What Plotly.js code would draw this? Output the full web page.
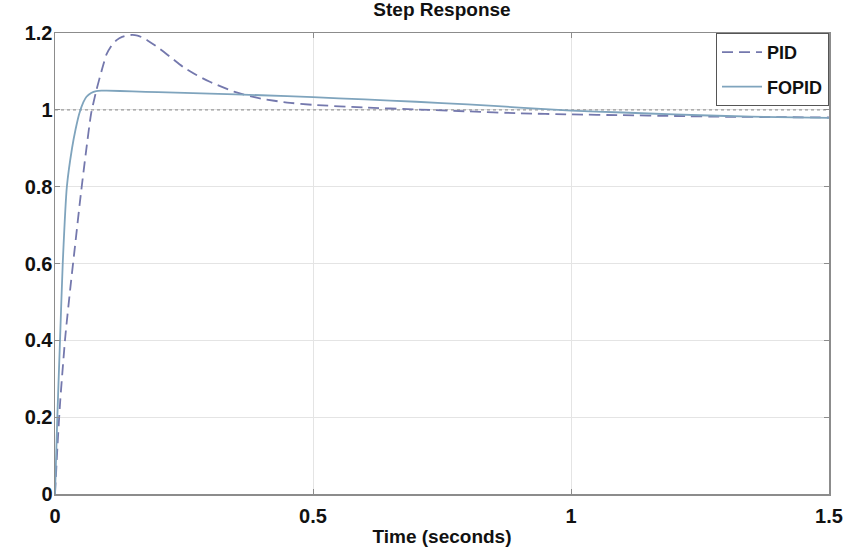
<!DOCTYPE html>
<html>
<head>
<meta charset="utf-8">
<script src="https://cdn.plot.ly/plotly-3.0.1.min.js"></script>
<style>html,body{margin:0;padding:0;background:#fff;}#chart{width:849px;height:552px;}</style>
</head>
<body>
<div id="chart"></div>
<script>
// Time samples and responses
var pidTime = [0, 0.005, 0.01, 0.02, 0.03, 0.04, 0.05, 0.06, 0.07, 0.08, 0.09, 0.1, 0.11, 0.12, 0.13, 0.14, 0.15, 0.16, 0.17, 0.18, 0.2, 0.225, 0.25, 0.275, 0.3, 0.35, 0.4, 0.45, 0.5, 0.6, 0.7, 0.8, 0.9, 1.0, 1.1, 1.2, 1.3, 1.4, 1.5];
var pidResp = [0, 0.13, 0.24, 0.41, 0.54, 0.66, 0.78, 0.89, 0.99, 1.05, 1.10, 1.145, 1.168, 1.182, 1.19, 1.194, 1.195, 1.193, 1.188, 1.18, 1.162, 1.136, 1.11, 1.09, 1.073, 1.046, 1.029, 1.019, 1.013, 1.006, 1.001, 0.996, 0.991, 0.988, 0.986, 0.984, 0.982, 0.981, 0.980];

var fopidTime = [0, 0.0045, 0.01, 0.015, 0.023, 0.033, 0.04, 0.047, 0.055, 0.061, 0.07, 0.08, 0.09, 0.1, 0.15, 0.2, 0.3, 0.4, 0.5, 0.6, 0.7, 0.8, 0.9, 1.0, 1.1, 1.2, 1.3, 1.4, 1.5];
var fopidResp = [0, 0.2, 0.41, 0.6, 0.8, 0.9, 0.95, 0.99, 1.02, 1.034, 1.044, 1.049, 1.05, 1.05, 1.048, 1.046, 1.042, 1.038, 1.033, 1.027, 1.021, 1.014, 1.006, 0.998, 0.993, 0.988, 0.984, 0.981, 0.979];

var refTime = [0, 1.5];
var refLevel = [1, 1];

var xTicks = [0, 0.5, 1, 1.5];
var xTickText = ['0', '0.5', '1', '1.5'];
var yTicks = [0, 0.2, 0.4, 0.6, 0.8, 1, 1.2];
var yTickText = ['0', '0.2', '0.4', '0.6', '0.8', '1', '1.2'];

var FONT = '"Liberation Sans", Arial, Helvetica, sans-serif';

var traces = [
  {x: refTime, y: refLevel, mode: 'lines', showlegend: false, hoverinfo: 'skip',
   line: {color: '#9a9a9a', width: 1.3, dash: 'dot'}},
  {x: pidTime, y: pidResp, mode: 'lines', name: '<b>PID</b>', legendgroup: 'a',
   line: {color: '#7478ad', width: 1.8, dash: '11px,6px', shape: 'spline', smoothing: 0.6}},
  {x: fopidTime, y: fopidResp, mode: 'lines', name: '<b>FOPID</b>', legendgroup: 'b',
   line: {color: '#7fa4bd', width: 1.8, shape: 'spline', smoothing: 0.6}}
];

var axisCommon = {
  showline: true, linecolor: '#8c8c8c', linewidth: 1.5, mirror: 'ticks',
  ticks: 'inside', ticklen: 5, tickcolor: '#8c8c8c', tickwidth: 1,
  showgrid: true, gridcolor: '#e4e4e4', gridwidth: 1, zeroline: false,
  tickfont: {family: FONT, size: 20, color: '#111'}
};

var layout = {
  width: 849, height: 552,
  margin: {l: 55, r: 20, t: 33, b: 58},
  paper_bgcolor: '#ffffff', plot_bgcolor: '#ffffff',
  title: {text: '<b>Step Response</b>', x: 0.5, xref: 'paper', y: 0.995, yanchor: 'top',
          font: {family: FONT, size: 19, color: '#111'}},
  xaxis: Object.assign({}, axisCommon, {
    range: [0, 1.5], tickvals: xTicks, ticktext: xTickText.map(function(s){return '<b>'+s+'</b>';}),
    ticklabelstandoff: 3,
    title: {text: '<b>Time (seconds)</b>', standoff: 4, font: {family: FONT, size: 19, color: '#111'}}
  }),
  yaxis: Object.assign({}, axisCommon, {
    range: [0, 1.2], tickvals: yTicks, ticktext: yTickText.map(function(s){return '<b>'+s+'</b>';}),
    ticklabelstandoff: -3
  }),
  legend: {x: 1, xanchor: 'right', y: 1, yanchor: 'top', bgcolor: '#ffffff',
           bordercolor: '#555', borderwidth: 1, traceorder: 'grouped', tracegroupgap: 8,
           itemwidth: 40, font: {family: FONT, size: 18, color: '#111'}},
  showlegend: true
};

Plotly.newPlot('chart', traces, layout, {staticPlot: true, displayModeBar: false});
</script>
</body>
</html>
